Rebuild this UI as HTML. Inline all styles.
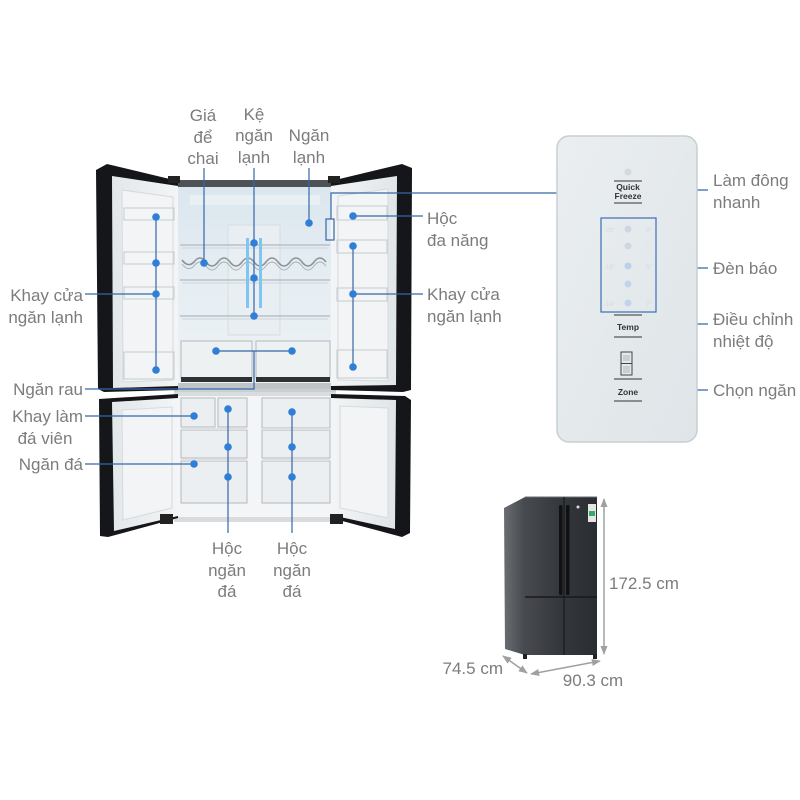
<!DOCTYPE html>
<html><head><meta charset="utf-8">
<style>
html,body{margin:0;padding:0;background:#fff;}
svg{display:block;}
text{font-family:"Liberation Sans","DejaVu Sans",sans-serif;}
.lb{font-size:17px;fill:#7c7c7c;}
.pt{font-size:8.5px;font-weight:bold;fill:#333;text-anchor:middle;}
.ln{stroke:#3467ab;stroke-width:1.2;fill:none;}
.dt{fill:#2f7fd8;}
</style></head><body>
<svg width="800" height="800" viewBox="0 0 800 800" xmlns="http://www.w3.org/2000/svg">
<defs>
 <linearGradient id="int" x1="0" y1="0" x2="0" y2="1">
   <stop offset="0" stop-color="#dbe6ee"/><stop offset="0.5" stop-color="#e6eef3"/><stop offset="1" stop-color="#edf2f5"/>
 </linearGradient>
 <linearGradient id="liner" x1="0" y1="0" x2="1" y2="0">
   <stop offset="0" stop-color="#e2e7ea"/><stop offset="1" stop-color="#f3f5f6"/>
 </linearGradient>
 <linearGradient id="linerR" x1="0" y1="0" x2="1" y2="0">
   <stop offset="0" stop-color="#f3f5f6"/><stop offset="1" stop-color="#e0e5e8"/>
 </linearGradient>
 <linearGradient id="front" x1="0" y1="0" x2="1" y2="0">
   <stop offset="0" stop-color="#474a50"/><stop offset="0.5" stop-color="#34373c"/><stop offset="1" stop-color="#2a2d31"/>
 </linearGradient>
 <linearGradient id="side" x1="0" y1="0" x2="1" y2="0">
   <stop offset="0" stop-color="#6a6d72"/><stop offset="1" stop-color="#45484d"/>
 </linearGradient>
 <linearGradient id="panel" x1="0" y1="0" x2="1" y2="1">
   <stop offset="0" stop-color="#eaeef0"/><stop offset="1" stop-color="#dfe5e8"/>
 </linearGradient>
 <marker id="ah" viewBox="0 0 10 10" refX="9" refY="5" markerWidth="6" markerHeight="6" orient="auto-start-reverse"><path d="M0,1 L10,5 L0,9 z" fill="#a0a0a0"/></marker>
</defs>

<!-- ===== Upper cabinet ===== -->
<rect x="174" y="180" width="162" height="214" fill="#c9cfd3"/>
<rect x="174" y="180" width="162" height="7" fill="#4e5256"/>
<rect x="178" y="187" width="154" height="196" fill="url(#int)"/>
<rect x="190" y="195" width="130" height="10" fill="#e9f0f4"/>
<rect x="228" y="225" width="52" height="110" fill="#e8eef2" stroke="#d6dee3" stroke-width="1"/>
<g stroke="#aeb8be" stroke-width="1.2" fill="none">
 <path d="M180,245 L330,245"/><path d="M182,248 L328,248" stroke="#d2dade"/>
 <path d="M180,280 L330,280"/><path d="M182,283 L328,283" stroke="#d2dade"/>
 <path d="M180,316 L330,316"/><path d="M182,319 L328,319" stroke="#d2dade"/>
</g>
<path d="M182,260 q6,8 12,2 q6,-8 12,0 q6,8 12,0 q6,-8 12,0 q6,8 12,0 q6,-8 12,0 q6,8 12,0 q6,-8 12,0 q6,8 12,0 q6,-8 12,0 q6,8 12,0 q6,-8 12,0" stroke="#8a9398" stroke-width="1.6" fill="none"/>
<path d="M182,264 q6,8 12,2 q6,-8 12,0 q6,8 12,0 q6,-8 12,0 q6,8 12,0 q6,-8 12,0 q6,8 12,0 q6,-8 12,0 q6,8 12,0 q6,-8 12,0 q6,8 12,0 q6,-8 12,0" stroke="#a9b1b6" stroke-width="1" fill="none"/>
<rect x="246" y="238" width="3" height="70" fill="#7cc6f0"/>
<rect x="259" y="238" width="3" height="70" fill="#7cc6f0"/>
<rect x="181" y="341" width="71" height="37" fill="#eef1f2" stroke="#b3babe"/>
<rect x="256" y="341" width="74" height="37" fill="#eef1f2" stroke="#b3babe"/>
<rect x="181" y="377" width="71" height="5" fill="#2e3033"/>
<rect x="256" y="377" width="74" height="5" fill="#2e3033"/>
<rect x="176" y="383" width="158" height="6" fill="#bfc4c7"/>

<!-- ===== Lower cabinet ===== -->
<rect x="174" y="392" width="162" height="130" fill="#d8dcde"/>
<rect x="178" y="396" width="154" height="121" fill="#f4f5f6"/>
<g fill="#eceff1" stroke="#b4b9bc" stroke-width="1">
 <rect x="181" y="398" width="34" height="29"/>
 <rect x="218" y="398" width="29" height="29"/>
 <rect x="181" y="430" width="66" height="28"/>
 <rect x="181" y="461" width="66" height="42"/>
 <rect x="262" y="398" width="68" height="30"/>
 <rect x="262" y="430" width="68" height="28"/>
 <rect x="262" y="461" width="68" height="42"/>
</g>
<g fill="#dde1e3">
 <rect x="181" y="428" width="66" height="2"/><rect x="181" y="459" width="66" height="2"/>
 <rect x="262" y="428" width="68" height="2"/><rect x="262" y="459" width="68" height="2"/>
</g>

<!-- ===== Doors ===== -->
<!-- upper left -->
<polygon points="96,170 107,164 178,181 178,390 104,392 98,389" fill="#15161a"/>
<polygon points="112,176 178,186 178,386 113,388" fill="url(#liner)"/>
<polygon points="122,190 173,197 173,380 123,382" fill="#f2f4f5" stroke="#d5dadd" stroke-width="1"/>
<g fill="none" stroke="#c4cbcf" stroke-width="1">
 <rect x="124" y="208" width="50" height="12"/>
 <rect x="124" y="252" width="50" height="12"/>
 <rect x="124" y="287" width="50" height="12"/>
 <rect x="124" y="352" width="50" height="27"/>
</g>
<!-- upper right -->
<polygon points="331,181 402,164 412,168 411,390 403,392 331,390" fill="#15161a"/>
<polygon points="331,186 397,176 396,385 331,386" fill="url(#linerR)"/>
<polygon points="338,196 388,189 388,381 338,380" fill="#f2f4f5" stroke="#d5dadd" stroke-width="1"/>
<g fill="none" stroke="#c4cbcf" stroke-width="1">
 <rect x="337" y="206" width="50" height="14"/>
 <rect x="337" y="240" width="50" height="13"/>
 <rect x="337" y="288" width="50" height="13"/>
 <rect x="337" y="350" width="50" height="28"/>
</g>
<rect x="168" y="176" width="12" height="7" fill="#222"/>
<rect x="328" y="176" width="12" height="7" fill="#222"/>
<!-- lower left -->
<polygon points="99,399 178,394 178,518 108,537 100,536" fill="#15161a"/>
<polygon points="112,402 178,398 178,516 114,531" fill="url(#liner)"/>
<polygon points="122,410 172,407 172,508 123,520" fill="#f2f4f5" stroke="#d5dadd" stroke-width="1"/>
<!-- lower right -->
<polygon points="331,394 405,396 411,400 410,533 402,537 331,518" fill="#15161a"/>
<polygon points="331,398 396,400 395,529 331,515" fill="url(#linerR)"/>
<polygon points="340,406 388,408 388,518 340,508" fill="#f2f4f5" stroke="#d5dadd" stroke-width="1"/>
<rect x="160" y="514" width="13" height="10" fill="#222"/>
<rect x="330" y="514" width="13" height="10" fill="#222"/>

<!-- ===== Leader lines ===== -->
<g class="ln">
 <path d="M204,168 V263"/>
 <path d="M254,168 V316"/>
 <path d="M309,168 V223"/>
 <path d="M156,217 V370"/><path d="M85,294 H156"/>
 <path d="M85,389 H254 V351"/><path d="M216,351 H292"/>
 <path d="M85,416 H194"/>
 <path d="M85,464 H194"/>
 <path d="M228,409 V533"/>
 <path d="M292,412 V533"/>
 <path d="M353,246 V367"/><path d="M353,294 H423"/>
 <path d="M353,216 H423"/>
 <path d="M331,219 V193 H557"/>
 <rect x="326" y="219" width="8" height="21"/>
 <path d="M640,190 H708"/>
 <path d="M656,268 H708"/>
 <path d="M632,324 H708"/>
 <path d="M636,390 H708"/>
</g>
<g class="dt">
 <circle cx="204" cy="263" r="3.8"/><circle cx="254" cy="243" r="3.8"/><circle cx="254" cy="278" r="3.8"/><circle cx="254" cy="316" r="3.8"/>
 <circle cx="309" cy="223" r="3.8"/>
 <circle cx="156" cy="217" r="3.8"/><circle cx="156" cy="263" r="3.8"/><circle cx="156" cy="294" r="3.8"/><circle cx="156" cy="370" r="3.8"/>
 <circle cx="353" cy="216" r="3.8"/><circle cx="353" cy="246" r="3.8"/><circle cx="353" cy="294" r="3.8"/><circle cx="353" cy="367" r="3.8"/>
 <circle cx="216" cy="351" r="3.8"/><circle cx="292" cy="351" r="3.8"/>
 <circle cx="194" cy="416" r="3.8"/><circle cx="194" cy="464" r="3.8"/>
 <circle cx="228" cy="409" r="3.8"/><circle cx="228" cy="447" r="3.8"/><circle cx="228" cy="477" r="3.8"/>
 <circle cx="292" cy="412" r="3.8"/><circle cx="292" cy="447" r="3.8"/><circle cx="292" cy="477" r="3.8"/>
</g>

<!-- ===== Labels ===== -->
<g class="lb" text-anchor="middle">
 <text x="203" y="121">Giá</text><text x="203" y="143">để</text><text x="203" y="164">chai</text>
 <text x="254" y="120">Kệ</text><text x="254" y="141">ngăn</text><text x="254" y="163">lạnh</text>
 <text x="309" y="141">Ngăn</text><text x="309" y="163">lạnh</text>
 <text x="227" y="554">Hộc</text><text x="227" y="576">ngăn</text><text x="227" y="597">đá</text>
 <text x="292" y="554">Hộc</text><text x="292" y="576">ngăn</text><text x="292" y="597">đá</text>
 <text x="45" y="444">đá viên</text>
 <text x="593" y="686">90.3 cm</text>
</g>
<g class="lb" text-anchor="end">
 <text x="83" y="301">Khay cửa</text><text x="83" y="323">ngăn lạnh</text>
 <text x="83" y="395">Ngăn rau</text>
 <text x="83" y="422">Khay làm</text>
 <text x="83" y="470">Ngăn đá</text>
 <text x="503" y="674">74.5 cm</text>
</g>
<g class="lb">
 <text x="427" y="224">Hộc</text><text x="427" y="246">đa năng</text>
 <text x="427" y="300">Khay cửa</text><text x="427" y="322">ngăn lạnh</text>
 <text x="713" y="186">Làm đông</text><text x="713" y="208">nhanh</text>
 <text x="713" y="274">Đèn báo</text>
 <text x="713" y="325">Điều chỉnh</text><text x="713" y="347">nhiệt độ</text>
 <text x="713" y="396">Chọn ngăn</text>
 <text x="609" y="589">172.5 cm</text>
</g>

<!-- ===== Control panel ===== -->
<rect x="557" y="136" width="140" height="306" rx="12" fill="url(#panel)" stroke="#c9ced1" stroke-width="1.5"/>
<circle cx="628" cy="172" r="3.5" fill="#d3d9dc"/>
<g stroke="#333" stroke-width="1">
 <path d="M614,181 H642"/><path d="M614,203 H642"/>
 <path d="M614,315 H642"/><path d="M614,337 H642"/>
 <path d="M614,379 H642"/><path d="M614,401 H642"/>
</g>
<text class="pt" x="628" y="190">Quick</text>
<text class="pt" x="628" y="199">Freeze</text>
<text class="pt" x="628" y="330">Temp</text>
<text class="pt" x="628" y="395">Zone</text>
<rect x="601" y="218" width="55" height="94" fill="none" stroke="#3a6fb5" stroke-width="1.2"/>
<g fill="#ccd7e2">
 <circle cx="628" cy="229" r="3.5"/><circle cx="628" cy="246" r="3.5"/><circle cx="628" cy="266" r="3.5" fill="#bcd0ea"/><circle cx="628" cy="284" r="3.5" fill="#c3d4ea"/><circle cx="628" cy="303" r="3.5" fill="#c3d4ea"/>
</g>
<g font-size="6" fill="#cfd9e3">
 <text x="604" y="232">-23°</text><text x="646" y="232">0°</text>
 <text x="604" y="269">-18°</text><text x="646" y="269">3°</text>
 <text x="604" y="306">-14°</text><text x="646" y="306">7°</text>
</g>
<rect x="621" y="352" width="11" height="23" fill="none" stroke="#444" stroke-width="1"/>
<path d="M621,363.5 H632" stroke="#444"/>
<rect x="623" y="355" width="7" height="6" fill="#c8d0d5"/>
<rect x="623" y="366" width="7" height="7" fill="#c8d0d5"/>

<!-- ===== Dimension fridge ===== -->
<polygon points="504,508 525,497 525,655 505,649" fill="url(#side)"/>
<rect x="525" y="497" width="72" height="158" fill="url(#front)"/>
<path d="M525,497 H597" stroke="#6b6e73" stroke-width="1"/>
<path d="M564,497 V655" stroke="#18191c" stroke-width="1.2"/>
<path d="M525,597 H597" stroke="#18191c" stroke-width="1.5"/>
<rect x="559" y="505" width="3.5" height="90" rx="1.5" fill="#111"/>
<rect x="566" y="505" width="3.5" height="90" rx="1.5" fill="#111"/>
<rect x="588" y="504" width="8" height="18" fill="#e5e5e5"/>
<rect x="589" y="511" width="6" height="5" fill="#3aa86b"/>
<circle cx="578" cy="507" r="1.5" fill="#ddd"/>
<rect x="523" y="654" width="4" height="5" fill="#222"/>
<rect x="593" y="654" width="4" height="5" fill="#222"/>
<g stroke="#a0a0a0" stroke-width="1.5" fill="none">
 <path d="M604,499 V654" marker-start="url(#ah)" marker-end="url(#ah)"/>
 <path d="M531,674 L600,661" marker-start="url(#ah)" marker-end="url(#ah)"/>
 <path d="M503,656 L527,673" marker-start="url(#ah)" marker-end="url(#ah)"/>
</g>
</svg>
</body></html>
